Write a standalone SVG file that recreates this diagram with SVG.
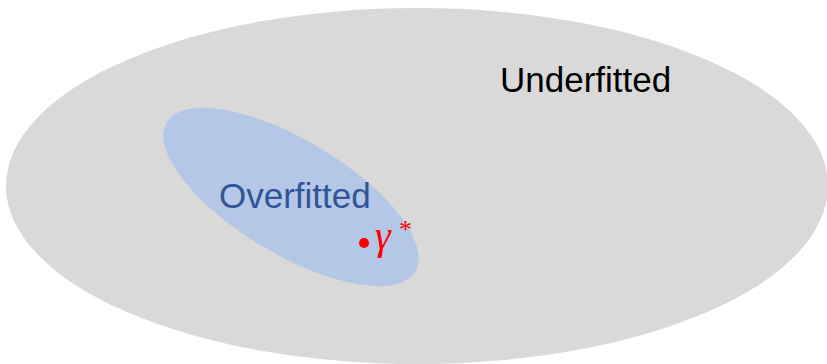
<svg xmlns="http://www.w3.org/2000/svg" width="827" height="364" viewBox="0 0 827 364">
<style>
.lbl{font-family:"Liberation Sans",Arial,sans-serif;font-size:35px}
.math{font-family:"Liberation Serif","Times New Roman",serif;fill:#FF0000}
</style>
<rect width="827" height="364" fill="#FFFFFF"/>
<g id="underfitted">
<ellipse cx="417" cy="186" rx="411" ry="178" fill="#D9D9D9"/>
<text class="lbl" x="500" y="92" fill="#000000">Underfitted</text>
</g>
<g id="overfitted">
<ellipse cx="291" cy="197" rx="145" ry="57" transform="rotate(31 291 197)" fill="#B4C7E7"/>
<text class="lbl" x="219" y="208" fill="#2F5597">Overfitted</text>
</g>
<g id="gamma">
<circle cx="364" cy="243" r="5" fill="#FF0000"/>
<text class="math" x="375" y="249" font-size="40" font-style="italic">γ</text>
<text class="math" x="399" y="238" font-size="26">*</text>
</g>
</svg>
